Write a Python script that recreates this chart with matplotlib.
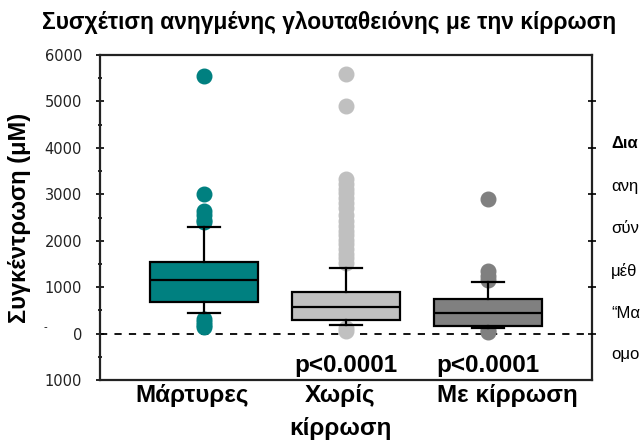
import matplotlib
matplotlib.use("Agg")
import matplotlib.pyplot as plt
from matplotlib.transforms import ScaledTranslation
from matplotlib.ticker import MultipleLocator

plt.rcParams['font.family'] = ['Liberation Sans', 'DejaVu Sans']

# ---- data ----
title = "Συσχέτιση ανηγμένης γλουταθειόνης με την κίρρωση"
ylabel = "Συγκέντρωση (μΜ)"
categories = ["Μάρτυρες", "Χωρίς\nκίρρωση", "Με κίρρωση"]
colors = ["#008080", "#C0C0C0", "#808080"]
q1 = [680, 300, 170]
median = [1150, 580, 450]
q3 = [1550, 900, 750]
whisker_low = [450, 190, 130]
whisker_high = [2300, 1420, 1120]
fliers = [
    [5550, 3000, 2650, 2550, 2450, 2400, 320, 250, 180, 140],
    [5600, 4900, 3320, 3220, 3120, 3020, 2920, 2820, 2700, 2560, 2420,
     2320, 2220, 2120, 2020, 1920, 1820, 1720, 1620, 1520, 120, 60],
    [2900, 1350, 1250, 1150, 70, 30],
]
pvalue_labels = ["", "p<0.0001", "p<0.0001"]
pvalue_y = -820
ytick_values = [-1000, 0, 1000, 2000, 3000, 4000, 5000, 6000]
ytick_labels = ["1000", "0", "1000", "2000", "3000", "4000", "5000", "6000"]
side_text = ["Δια", "ανη", "σύν", "μέθ", "“Μα", "ομο"]

positions = [1, 2, 3]

fig = plt.figure(figsize=(6.4, 4.47), dpi=100)
ax = fig.add_axes([100/640, 1-380/447, 492/640, 325/447])

stats = []
for i in range(3):
    stats.append(dict(q1=q1[i], med=median[i], q3=q3[i],
                      whislo=whisker_low[i], whishi=whisker_high[i],
                      fliers=fliers[i]))

bp = ax.bxp(stats, positions=positions, widths=0.76, capwidths=0.22,
            patch_artist=True, showfliers=True,
            boxprops=dict(edgecolor="black", linewidth=1.6),
            medianprops=dict(color="black", linewidth=1.6),
            whiskerprops=dict(color="black", linewidth=1.6),
            capprops=dict(color="black", linewidth=1.6))
for i, (box, fl) in enumerate(zip(bp['boxes'], bp['fliers'])):
    box.set_facecolor(colors[i])
    fl.set_marker('o')
    fl.set_markersize(10.5)
    fl.set_markerfacecolor(colors[i])
    fl.set_markeredgecolor(colors[i])
    fl.set_zorder(1)

ax.axhline(0, color="black", linestyle=(0, (4, 4)), linewidth=1.3, zorder=0)

ax.set_xlim(0.268, 3.732)
ax.set_ylim(-1000, 6000)

ax.set_yticks(ytick_values)
ax.set_yticklabels(ytick_labels, fontsize=10.5, color="#222222",
                   family=['DejaVu Sans'])
ax.yaxis.set_minor_locator(MultipleLocator(500))
ax.tick_params(axis='y', which='major', direction='inout', length=6, width=1.2, pad=10)
ax.tick_params(axis='y', which='minor', direction='inout', length=3, width=1.2)

ax.set_xticks(positions)
ax.set_xticklabels(categories, fontsize=17.5, fontweight='bold', linespacing=1.55)
ax.tick_params(axis='x', length=0, pad=3)
offsets_px = [-12, -6, 19]
for lbl, dx in zip(ax.get_xticklabels(), offsets_px):
    lbl.set_transform(lbl.get_transform() + ScaledTranslation(dx/100, 0, fig.dpi_scale_trans))

for s in ax.spines.values():
    s.set_linewidth(1.6)
    s.set_color("#222222")

# right axis ticks
ax2 = ax.twinx()
ax2.set_ylim(ax.get_ylim())
ax2.set_yticks([0, 1000, 2000, 3000, 4000, 5000])
ax2.set_yticklabels([])
ax2.tick_params(axis='y', direction='inout', length=6, width=1.2)
for s in ax2.spines.values():
    s.set_visible(False)

for x, p in zip(positions, pvalue_labels):
    if p:
        ax.text(x, pvalue_y, p, ha='center', va='baseline', fontsize=17.5,
                fontweight='bold')

fig.text(20/640, 1-218/447, ylabel, rotation=90, ha='center', va='center',
         fontsize=17, fontweight='bold')

fig.text(329/640, 1-22/447, title, ha='center', va='center', fontsize=16.4,
         fontweight='bold')
fig.text(45/640, 1-327/447, "-", ha='center', va='center', fontsize=8)

ys = [143, 187, 228, 271, 313, 354]
for i, (t, y) in enumerate(zip(side_text, ys)):
    fig.text(611/640, 1-y/447, t, ha='left', va='center', fontsize=12,
             fontweight='bold' if i == 0 else 'normal')

fig.savefig("out.png", dpi=100)
